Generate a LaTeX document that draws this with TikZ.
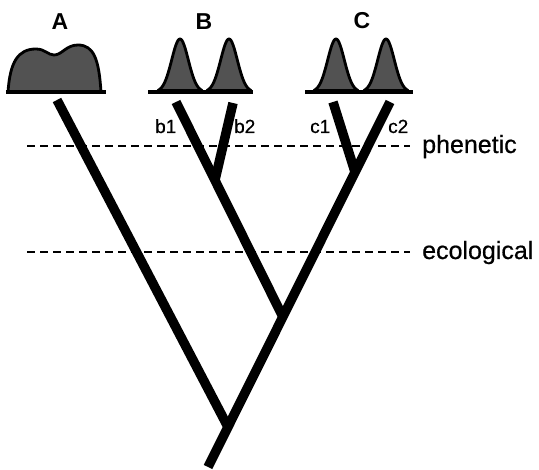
\documentclass[tikz,border=0pt]{standalone}
\usepackage{fontspec}
\setmainfont{Liberation Sans}
\newfontfamily\heavyface[FakeBold=0.6]{Liberation Sans}
\begin{document}
\begin{tikzpicture}[x=1pt,y=-1pt,
  branch/.style={line width=9.5pt,line cap=butt,line join=miter},
  level/.style={line width=2.6pt,dash pattern=on 8pt off 5pt},
  hump/.style={fill=black!68,draw=black,line width=2.8pt,line join=round},
  base/.style={line width=3.5pt},
  taxon/.style={font=\fontsize{23}{23}\selectfont\bfseries,anchor=base},
  tip/.style={font=\fontsize{19}{19}\selectfont\heavyface,anchor=base west,inner sep=0pt},
  levlabel/.style={font=\fontsize{25}{25}\selectfont\heavyface,anchor=base west,inner sep=0pt}]
\useasboundingbox (0,0) rectangle (539,470);

% distributions
\draw[hump] (8,92) .. controls (10,62) and (18,49) .. (36,49)
  .. controls (45,49) and (48,55) .. (54,55)
  .. controls (62,55) and (66,45) .. (78,45)
  .. controls (94,45) and (99,60) .. (101,92) -- cycle;
\draw[base] (6,92) -- (106,92);

\foreach \c in {180,229,336,386}
  \draw[hump] plot[domain=\c-22:\c+22,samples=60,smooth]
    (\x,{92-53*exp(-((\x-\c)/8.3)^2/2)}) -- cycle;
\draw[base] (148,92) -- (253,92);
\draw[base] (305,92) -- (413,92);

\node[taxon] (A) at (60,30) {A};
\node[taxon] (B) at (204,30) {B};
\node[taxon] (C) at (362,29) {C};

% levels
\coordinate (p1) at (27,146); \coordinate (p2) at (410,146);
\coordinate (e1) at (27,252); \coordinate (e2) at (410,252);
\draw[level] (p1) -- (p2);
\draw[level] (e1) -- (e2);
\node[levlabel] (phen) at (422,153) {phenetic};
\node[levlabel] (eco) at (422,259) {ecological};

% tree
\coordinate (tA) at (57,100);
\coordinate (tb1) at (176,102);
\coordinate (tb2) at (233,103);
\coordinate (tc1) at (333,102);
\coordinate (tc2) at (390,102);
\coordinate (nB) at (215,180);
\coordinate (nC) at (355,172);
\coordinate (nBC) at (283,317);
\coordinate (root) at (228,427);
\coordinate (stem) at (208,467);

\draw[branch] (tc2) -- (stem);
\draw[branch] (tb1) -- (nBC);
\draw[branch] (tb2) -- (nB);
\draw[branch] (tc1) -- (nC);
\draw[branch] (tA) -- (root);

\node[tip] (b1) at (155,133) {b1};
\node[tip] (b2) at (234,133) {b2};
\node[tip] (c1) at (310,133) {c1};
\node[tip] (c2) at (388,133) {c2};
\end{tikzpicture}
\end{document}
